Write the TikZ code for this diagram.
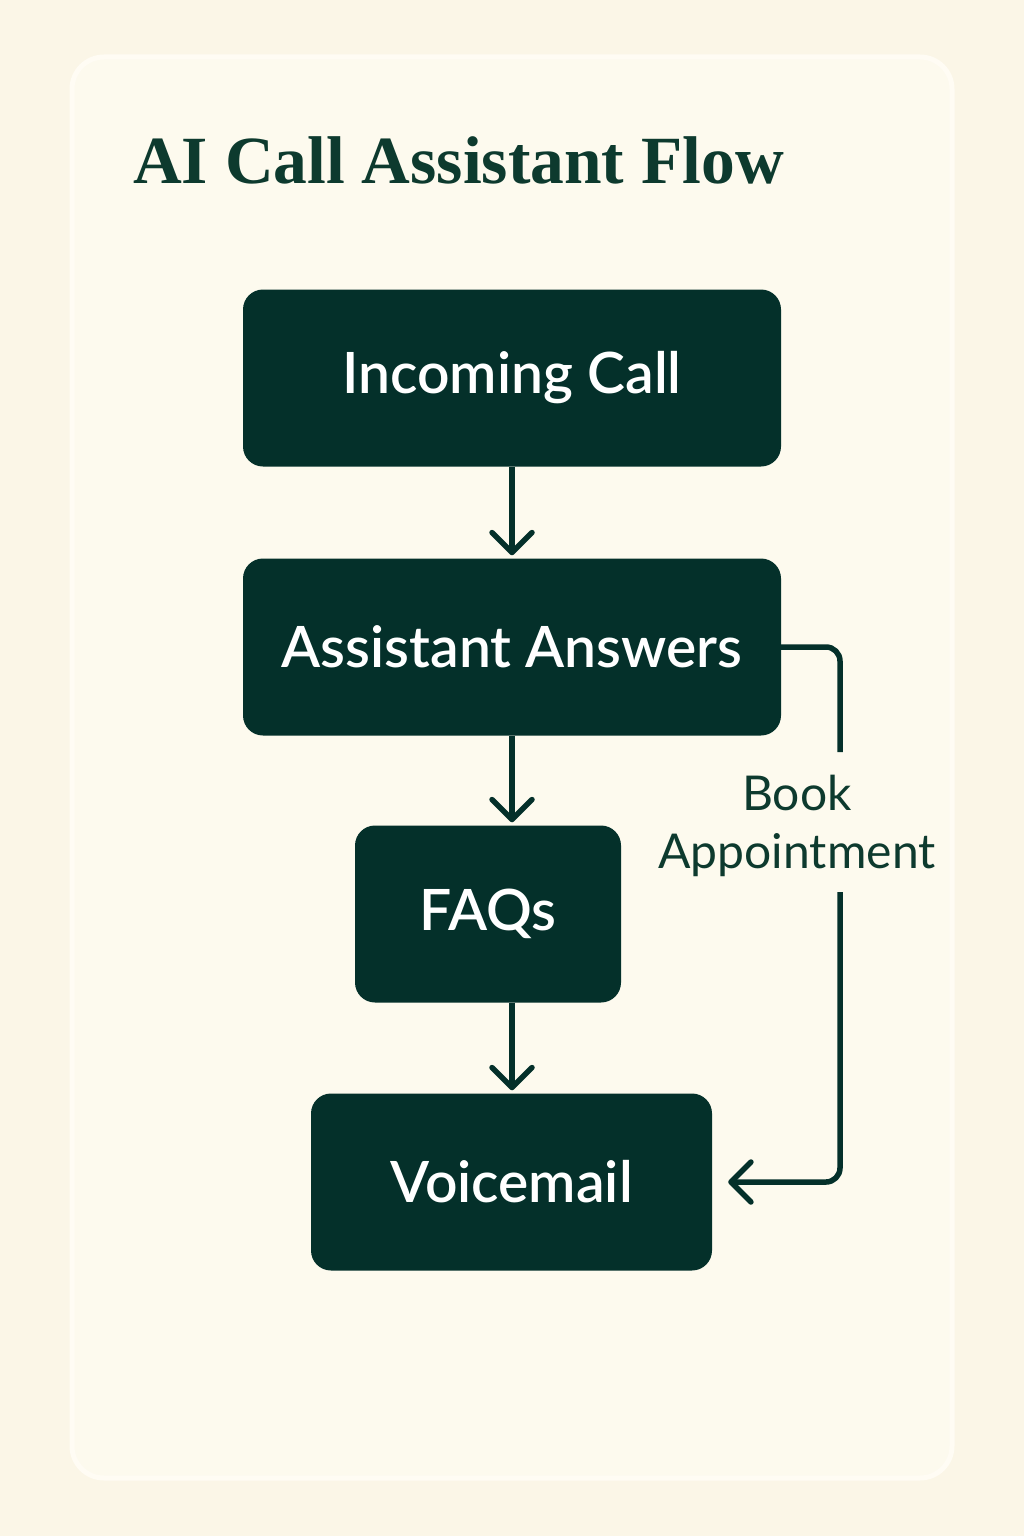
\documentclass[tikz,border=0pt]{standalone}
\usepackage{fontspec}
\setmainfont{Lato}
\newfontfamily\boxfont{Lato Semibold}
\newfontfamily\titlefont{Liberation Serif}
\usetikzlibrary{arrows.meta}
\definecolor{pagebg}{HTML}{FBF6E7}
\definecolor{cardbg}{HTML}{FDFAEE}
\definecolor{cardrim}{HTML}{FFFCF4}
\definecolor{boxgreen}{HTML}{04302A}
\definecolor{inkgreen}{HTML}{0D3A2E}

\begin{document}
\begin{tikzpicture}
      [x=1pt,y=-1pt,
       step box/.style={rectangle,rounded corners=20pt,fill=boxgreen,text=white,
         inner sep=0pt,minimum height=177pt,font=\boxfont\fontsize{57}{64}\selectfont},
       flow/.style={draw=boxgreen,line width=5.5pt,
         -{Straight Barb[length=20pt,width=40pt,line cap=round,line join=round]}}]
        \useasboundingbox (0,0) rectangle (1024,1536);
        \fill[pagebg] (0,0) rectangle (1024,1536);
        \draw[fill=cardbg,draw=cardrim,line width=5pt,rounded corners=32pt] (72,57) rectangle (952,1478);

        \node[anchor=base west,text=inkgreen,inner sep=0pt,
          font=\titlefont\bfseries\fontsize{67.5}{72}\selectfont] (title) at (133,183) {AI Call Assistant Flow};

        \node[step box,minimum width=538pt] (call) at (512,378) {Incoming Call};
        \node[step box,minimum width=538pt] (ans) at (512,647) {Assistant Answers};
        \node[step box,minimum width=266pt] (faq) at (488,914) {FAQs};
        \node[step box,minimum width=401pt] (vm) at (511.5,1182) {Voicemail};

        \node[text=inkgreen,align=center,inner sep=0pt,
          font=\fontsize{48}{58}\selectfont] (book) at (797,826) {Book\\Appointment};
        \coordinate (gapTop) at (840,752);
        \coordinate (gapBot) at (840,892);

        \draw[flow,shorten >=3pt] (call.south) -- (call.south |- ans.north);
        \draw[flow,shorten >=3pt] (ans.south) -- (ans.south |- faq.north);
        \draw[flow,shorten >=3pt] (faq.south -| ans.south) -- (ans.south |- vm.north);
        \draw[draw=boxgreen,line width=5.5pt,rounded corners=14pt] (ans.east) -- (ans.east -| gapTop) -- (gapTop);
        \draw[flow,rounded corners=14pt,shorten >=16pt] (gapBot) -- (gapBot |- vm.east) -- (vm.east);

      \end{tikzpicture}
\end{document}
